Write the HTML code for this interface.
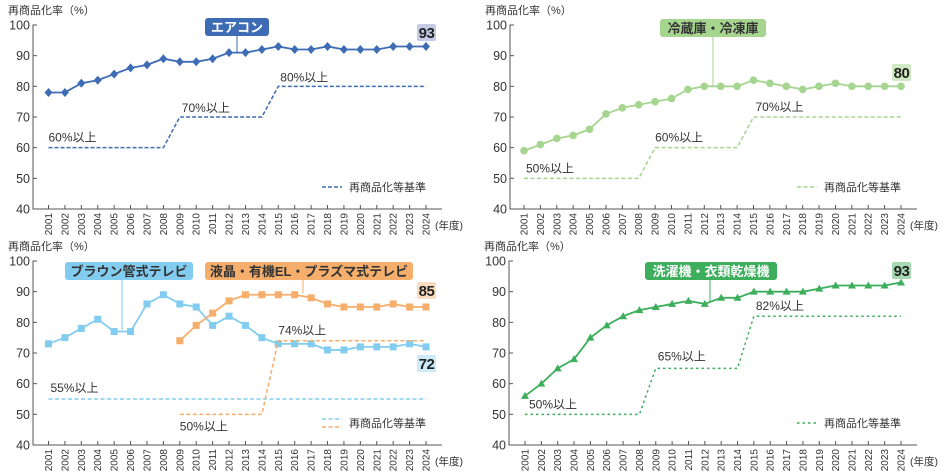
<!DOCTYPE html>
<html><head><meta charset="utf-8">
<style>
html,body{margin:0;padding:0;background:#fff;}
svg{display:block;font-family:"Liberation Sans","Noto Sans CJK JP",sans-serif;}
</style></head>
<body>
<svg id="c" width="942" height="472" viewBox="0 0 942 472" xmlns="http://www.w3.org/2000/svg"></svg>
<script>
const years = ["2001","2002","2003","2004","2005","2006","2007","2008","2009","2010","2011","2012","2013","2014","2015","2016","2017","2018","2019","2020","2021","2022","2023","2024"];
const yTicks = [40,50,60,70,80,90,100];
const airconValues = [78,78,81,82,84,86,87,89,88,88,89,91,91,92,93,92,92,93,92,92,92,93,93,93];
const airconStandard = [60,60,60,60,60,60,60,60,70,70,70,70,70,70,80,80,80,80,80,80,80,80,80,80];
const fridgeValues = [59,61,63,64,66,71,73,74,75,76,79,80,80,80,82,81,80,79,80,81,80,80,80,80];
const fridgeStandard = [50,50,50,50,50,50,50,50,60,60,60,60,60,60,70,70,70,70,70,70,70,70,70,70];
const crtValues = [73,75,78,81,77,77,86,89,86,85,79,82,79,75,73,73,73,71,71,72,72,72,73,72];
const crtStandard = [55,55,55,55,55,55,55,55,55,55,55,55,55,55,55,55,55,55,55,55,55,55,55,55];
const lcdValues = [null,null,null,null,null,null,null,null,74,79,83,87,89,89,89,89,88,86,85,85,85,86,85,85];
const lcdStandard = [null,null,null,null,null,null,null,null,50,50,50,50,50,50,74,74,74,74,74,74,74,74,74,74];
const washerValues = [56,60,65,68,75,79,82,84,85,86,87,86,88,88,90,90,90,90,91,92,92,92,92,93];
const washerStandard = [50,50,50,50,50,50,50,50,65,65,65,65,65,65,82,82,82,82,82,82,82,82,82,82];

const NS="http://www.w3.org/2000/svg";
const svg=document.getElementById('c');
function mk(tag,attrs,parent,text){const e=document.createElementNS(NS,tag);for(const k in attrs)e.setAttribute(k,attrs[k]);if(text!==undefined)e.textContent=text;(parent||svg).appendChild(e);return e;}

function panel(p){
  const g=mk('g',{});
  
  
  const x=i=>p.x0+(p.x1-p.x0)*i/(years.length-1);
  const y=v=>p.yb+(p.yt-p.yb)*(v-40)/60;
  const t=mk('text',{x:p.ax-25,y:p.yt-11,'font-size':11,fill:'#333'},g,'再商品化率（%）');
  
  const ax=mk('path',{d:`M${p.ax+4},${y(100)}H${p.ax}V${y(40)}H${p.axEnd}`,stroke:'#555',fill:'none','stroke-width':1},g);
  
  yTicks.forEach(v=>{
    mk('line',{x1:p.ax,x2:p.ax+4,y1:y(v),y2:y(v),stroke:'#555'},g);
    const tl=mk('text',{x:p.ax-3,y:y(v)+4.5,'font-size':12.5,'text-anchor':'end',fill:'#333'},g,String(v));
    
  });
  years.forEach((yr,i)=>{
    mk('line',{x1:x(i),x2:x(i),y1:y(40),y2:y(40)-4,stroke:'#555'},g);
    const tl=mk('text',{x:0,y:0,'font-size':10,'text-anchor':'end',fill:'#333',transform:`translate(${x(i)+3.5},${y(40)+4}) rotate(-90)`},g,yr);
    
  });
  const u=mk('text',{x:p.x1+9,y:y(40)+20,'font-size':10.5,fill:'#333'},g,'(年度)');
  
  p.series.forEach(s=>{
    let d='';s.std.forEach((v,i)=>{if(v==null)return;d+=(d?'L':'M')+x(i)+','+y(v);});
    const sl=mk('path',{d,stroke:s.color,fill:'none','stroke-width':1.5,'stroke-dasharray':s.dash},g);
    
    d='';s.vals.forEach((v,i)=>{if(v==null)return;d+=(d?'L':'M')+x(i)+','+y(v);});
    const ln=mk('path',{d,stroke:s.color,fill:'none','stroke-width':1.8},g);
    
    s.vals.forEach((v,i)=>{
      if(v==null)return;const cx=x(i),cy=y(v);let m;
      if(s.marker==='diamond')m=mk('path',{d:`M${cx},${cy-4.5}L${cx+4},${cy}L${cx},${cy+4.5}L${cx-4},${cy}Z`,fill:s.color},g);
      else if(s.marker==='circle')m=mk('circle',{cx,cy,r:3.8,fill:s.color},g);
      else if(s.marker==='square')m=mk('rect',{x:cx-3.5,y:cy-3.5,width:7,height:7,fill:s.color},g);
      else m=mk('path',{d:`M${cx},${cy-4}L${cx+4},${cy+3}L${cx-4},${cy+3}Z`,fill:s.color},g);
      
    });
    s.stdLabels.forEach(l=>{
      const tx=mk('text',{x:x(l.i)+(l.dx||0),y:y(s.std[l.i])+l.dy,'font-size':12,fill:'#333'},g,s.std[l.i]+'%以上');
      
    });
    const last=s.vals[s.vals.length-1];
    const bx=x(23)-9,by=s.badgeY;
    const br=mk('rect',{x:bx,y:by,width:19,height:17,rx:2,fill:s.badgeBg},g);
    
    const bt=mk('text',{x:bx+9.5,y:by+14,'font-size':15,'font-weight':'bold','text-anchor':'middle',fill:'#222','letter-spacing':'-0.5'},g,String(last));
    
    const n=s.tag;
    mk('line',{x1:n.lx,x2:n.lx,y1:n.y+18,y2:n.ly,stroke:s.color,'stroke-width':1},g);
    const nr=mk('rect',{x:n.x,y:n.y,width:n.w,height:18,rx:3,fill:s.color},g);
    
    const nt=mk('text',{x:n.x+n.w/2,y:n.y+14,'font-size':13,'font-weight':'bold','text-anchor':'middle',fill:n.fg},g,n.text);
    
  });
  p.series.forEach((s,k)=>{
    const ly=y(40)-22+k*8-(p.series.length-1)*4;
    const ll=mk('line',{x1:p.legX,x2:p.legX+20,y1:ly,y2:ly,stroke:s.color,'stroke-width':1.5,'stroke-dasharray':s.dash},g);
    
  });
  const lt=mk('text',{x:p.legX+27,y:y(40)-18,'font-size':11,fill:'#333'},g,'再商品化等基準');
  
}

panel({name:'aircon-chart',ax:33,axEnd:442,x0:48.5,x1:426,yt:25,yb:209,legX:322,series:[
 {vals:airconValues,std:airconStandard,color:'#3d6cb5',dash:'4 2',marker:'diamond',badgeBg:'#c5cae6',badgeY:24,
  stdLabels:[{i:0,dy:-6},{i:8,dy:-5,dx:2},{i:14,dy:-5,dx:2}],
  tag:{x:205,y:18,w:64,text:'エアコン',fg:'#fff',lx:237,ly:52}}]});
panel({name:'fridge-chart',ax:510,axEnd:917,x0:524,x1:901,yt:25,yb:209,legX:797,series:[
 {vals:fridgeValues,std:fridgeStandard,color:'#a6d58f',dash:'4 2.5',marker:'circle',badgeBg:'#cfe9c2',badgeY:64,
  stdLabels:[{i:0,dy:-6,dx:2},{i:8,dy:-6},{i:14,dy:-6,dx:2}],
  tag:{x:660,y:19,w:106,text:'冷蔵庫・冷凍庫',fg:'#333',lx:713,ly:86}}]});
panel({name:'tv-chart',ax:33,axEnd:442,x0:48.5,x1:426,yt:261,yb:445,legX:322,series:[
 {vals:crtValues,std:crtStandard,color:'#82cdef',dash:'4 2.5',marker:'square',badgeBg:'#cdeaf8',badgeY:355,
  stdLabels:[{i:0,dy:-7,dx:2}],
  tag:{x:65,y:262,w:128,text:'ブラウン管式テレビ',fg:'#333',lx:122,ly:330}},
 {vals:lcdValues,std:lcdStandard,color:'#f5ae6b',dash:'4 2.5',marker:'square',badgeBg:'#fadcbf',badgeY:282,
  stdLabels:[{i:8,dy:16},{i:14,dy:-6}],
  tag:{x:205,y:262,w:208,text:'液晶・有機EL・プラズマ式テレビ',fg:'#333',lx:303,ly:293}}]});
panel({name:'washer-chart',ax:509,axEnd:917,x0:525,x1:901,yt:261,yb:445,legX:797,series:[
 {vals:washerValues,std:washerStandard,color:'#3cae5c',dash:'2.5 3',marker:'triangle',badgeBg:'#a6d9b0',badgeY:262,
  stdLabels:[{i:0,dy:-6,dx:4},{i:8,dy:-8,dx:2},{i:14,dy:-6,dx:2}],
  tag:{x:645,y:262,w:132,text:'洗濯機・衣類乾燥機',fg:'#fff',lx:710,ly:302}}]});
</script>
</body></html>
